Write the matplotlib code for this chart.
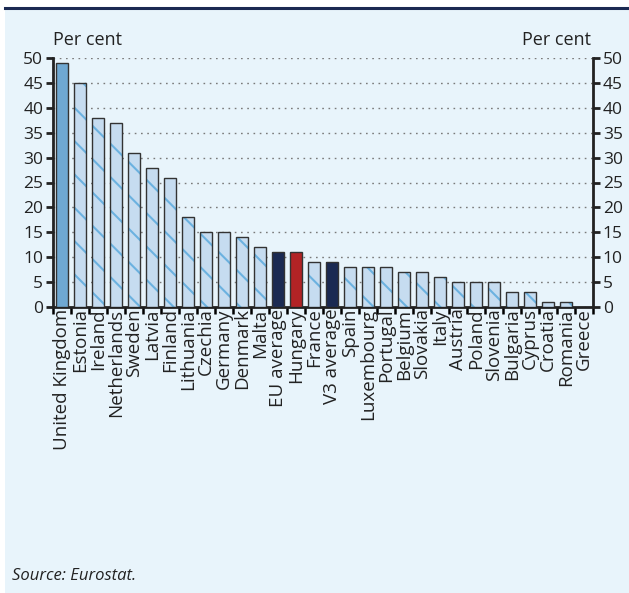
import matplotlib
matplotlib.use("Agg")
import matplotlib.pyplot as plt
from matplotlib.patches import Rectangle
from matplotlib.lines import Line2D

countries = ["United Kingdom", "Estonia", "Ireland", "Netherlands", "Sweden", "Latvia",
             "Finland", "Lithuania", "Czechia", "Germany", "Denmark", "Malta",
             "EU average", "Hungary", "France", "V3 average", "Spain", "Luxembourg",
             "Portugal", "Belgium", "Slovakia", "Italy", "Austria", "Poland",
             "Slovenia", "Bulgaria", "Cyprus", "Croatia", "Romania", "Greece"]
values = [49, 45, 38, 37, 31, 28, 26, 18, 15, 15, 14, 12, 11, 11, 9, 9, 8, 8, 8, 7, 7,
          6, 5, 5, 5, 3, 3, 1, 1, 0]
yticks = [0, 5, 10, 15, 20, 25, 30, 35, 40, 45, 50]

plt.rcParams['font.family'] = ['Open Sans', 'DejaVu Sans']
plt.rcParams['hatch.linewidth'] = 1.5

BG = "#E8F4FB"
LIGHT = "#C6DCF0"
HATCH = "#6CB2E0"
UKC = "#6FA8D2"
NAVY = "#1B2A52"
RED = "#B22325"
EDGE = "#333333"

fig = plt.figure(figsize=(6.29, 5.93), dpi=100)
fig.patch.set_facecolor("white")
fig.add_artist(Rectangle((5/629, 0), 1 - 5/629, 1 - 9/593, transform=fig.transFigure,
                         facecolor=BG, edgecolor="none", zorder=-10))
fig.add_artist(Line2D([5/629, 1], [1 - 8/593, 1 - 8/593], transform=fig.transFigure,
                      color=NAVY, lw=2.2))

ax = fig.add_axes([53/629, 1 - 307/593, 540/629, 249/593])
ax.set_facecolor("none")
x = list(range(len(countries)))
for i, (c, v) in enumerate(zip(countries, values)):
    if c == "United Kingdom":
        fc, h = UKC, None
    elif c in ("EU average", "V3 average"):
        fc, h = NAVY, None
    elif c == "Hungary":
        fc, h = RED, None
    else:
        fc, h = LIGHT, "\\"
    ax.bar(i, v, width=0.72, color=fc, hatch=h, edgecolor=HATCH if h else fc,
           linewidth=0, zorder=3)
    ax.bar(i, v, width=0.72, facecolor="none", edgecolor=EDGE, linewidth=1.0, zorder=4)

ax.set_xlim(-0.5, len(countries) - 0.5)
ax.set_ylim(0, 50)
ax.set_yticks(yticks)
ax.yaxis.grid(True, linestyle=(0, (1.2, 3.3)), color="#7a7a7a", lw=1.0, zorder=1)
ax.set_axisbelow(True)
ax.tick_params(axis='y', which='both', left=True, right=True, labelleft=True,
               labelright=True, direction='out', length=5, width=2, labelsize=12.5,
               pad=2, colors="#222222")
ax.set_xticks([i + 0.5 for i in range(-1, len(countries))], minor=False)
ax.set_xticklabels([])
ax.set_xticks(x, minor=True)
ax.set_xticklabels(countries, minor=True, rotation=90, fontsize=13.5, color="#222222")
ax.tick_params(axis='x', which='major', direction='out', length=5, width=1.8)
ax.tick_params(axis='x', which='minor', length=0, pad=1)
for s in ["left", "right", "bottom"]:
    ax.spines[s].set_linewidth(2)
    ax.spines[s].set_color("#222222")
ax.spines["top"].set_visible(False)

fig.text(53/629, 1 - 40/593, "Per cent", fontsize=13, ha="left", va="center", color="#222222")
fig.text(591/629, 1 - 40/593, "Per cent", fontsize=13, ha="right", va="center", color="#222222")
fig.text(12/629, 1 - 576/593, "Source: Eurostat.", fontsize=12, style="italic",
         ha="left", va="center", color="#222222")

fig.savefig("out.png", dpi=100, facecolor=fig.get_facecolor())
